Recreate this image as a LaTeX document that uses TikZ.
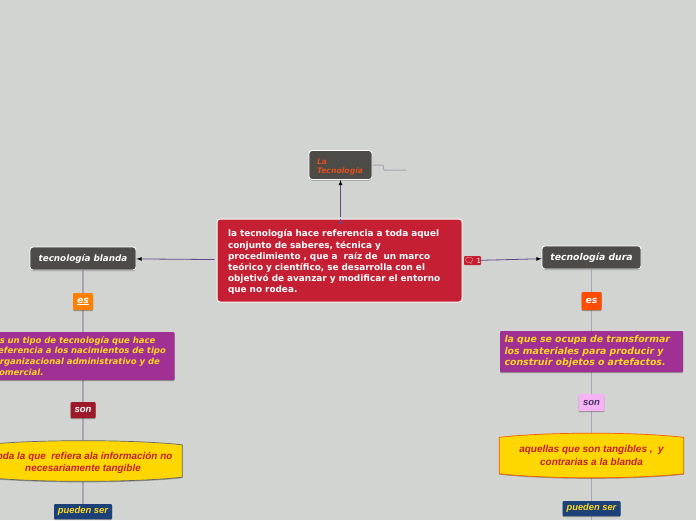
\documentclass[tikz,border=0pt]{standalone}
\usepackage{fontspec}
\setmainfont{DejaVu Sans}
\newfontfamily\arialfont{Liberation Sans}
\newfontfamily\emojifont{Noto Emoji}
\usepackage{tikz}
\usetikzlibrary{positioning}
\usetikzlibrary{arrows}
\usetikzlibrary{shadows,backgrounds}
\definecolor{canvas}{HTML}{D1D4D1}
\definecolor{rootred}{HTML}{C41F33}
\definecolor{topicgrey}{HTML}{4D4B47}
\definecolor{titleorange}{HTML}{E0501E}
\definecolor{linkpurple}{HTML}{66468A}
\definecolor{linkgrey}{HTML}{ACA2B6}
\definecolor{boxpurple}{HTML}{A03094}
\definecolor{textyellow}{HTML}{FFD91E}
\definecolor{lensyellow}{HTML}{FFD700}
\definecolor{darkblue}{HTML}{1C4178}
\newcommand{\lensshape}[3]{\draw[fill=#2,draw=#3,line width=0.7pt,drop shadow={shadow xshift=0pt,shadow yshift=-1pt,opacity=.3,fill=black}]
  (#1.north west) .. controls +(50,-5.5) and +(-50,-5.5) .. (#1.north east)
  -- (#1.south east) .. controls +(-50,5.5) and +(50,5.5) .. (#1.south west) -- cycle;}
\begin{document}
\begin{tikzpicture}[x=1pt,y=-1pt,on grid,
    softshadow/.style={drop shadow={shadow xshift=0pt,shadow yshift=-1pt,opacity=.3,fill=black}},
    root/.style={draw=white,line width=1pt,fill=rootred,rounded corners=3pt,text=white,inner sep=0pt,minimum width=245pt,minimum height=83pt,text width=223pt,align=left,font=\fontsize{8.9}{11.05}\selectfont\bfseries},
    topic/.style={draw=white,line width=0.9pt,fill=topicgrey,rounded corners=3pt,text=white,inner sep=0pt,minimum height=23pt,font=\fontsize{9.3}{11}\selectfont\bfseries\itshape,softshadow},
    tag/.style={fill=#1,rounded corners=1pt,text=white,inner sep=0pt,font=\arialfont\fontsize{9.5}{11}\selectfont\bfseries\itshape,softshadow},
    info/.style={fill=boxpurple,rounded corners=1pt,text=textyellow,inner sep=0pt,align=left,minimum width=183pt,softshadow},
    lens/.style={inner sep=0pt,align=center,text=rootred,minimum height=32pt,font=\arialfont\fontsize{9.9}{11.5}\selectfont\bfseries\itshape},
    link/.style={draw=linkpurple,line width=0.8pt,-latex},
    limb/.style={draw=linkgrey,line width=1.2pt}]
  \useasboundingbox (0,0) rectangle (696,520);

  \node[root] (saberes) at (339.5,260.5) {\rule{0pt}{10pt}la tecnología hace referencia a toda aquel\\conjunto de saberes, técnica y\\procedimiento , que a\ \ raíz de\ \ un marco\\teórico y científico, se desarrolla con el\\objetivó de avanzar y modificar el entorno\\que no rodea.};
  \node[topic,minimum width=63pt,minimum height=29pt,text width=47pt,align=left,text=titleorange,font=\fontsize{7.7}{9.3}\selectfont\bfseries\itshape] (titulo) at (340.5,165) {\rule{0pt}{9pt}La\\Tecnología};
  \coordinate (nota) at (406,170);
  \node[fill=rootred,rounded corners=1pt,text=white,inner sep=0pt,minimum width=17pt,minimum height=9pt,font=\fontsize{7}{8}\selectfont] (comentario) at (472.5,260.5) {{\emojifont\fontsize{8}{8}\selectfont 🗨}\,\,1};

  % rama izquierda
  \node[topic,minimum width=106pt,font=\fontsize{8.8}{11}\selectfont\bfseries\itshape] (blanda) at (83,258.5) {tecnología blanda};
  \node[tag=orange,minimum width=20pt,minimum height=17pt,font=\fontsize{9.3}{11}\selectfont\bfseries\itshape] (esb) [below=43pt of blanda] {\underline{es}};
  \node[info,minimum height=48pt,text width=178pt,font=\fontsize{8.5}{10.7}\selectfont\bfseries\itshape] (tipo) [below=54.5pt of esb] {es un tipo de tecnología que hace\\referencia a los nacimientos de tipo\\organizacional administrativo y de\\comercial.};
  \node[tag={rootred!80!black},minimum width=25pt,minimum height=16pt] (sonb) [below=54pt of tipo] {son};
  \node[lens,minimum width=198pt] (intangible) [below=51pt of sonb] {\rule{0pt}{11.5pt}toda la que\ \ refiera ala información no\\necesariamente tangible};
  \node[tag=darkblue,text=textyellow,minimum width=58pt,minimum height=15pt,font=\arialfont\fontsize{9.4}{10}\selectfont\bfseries\itshape] (puedenb) [below=50.5pt of intangible] {pueden ser};

  % rama derecha
  \node[topic,minimum width=99pt] (dura) at (591.5,257.5) {tecnología dura};
  \node[tag={orange!60!red},minimum width=20pt,minimum height=18pt,font=\fontsize{9.3}{11}\selectfont\bfseries\itshape] (esd) [below=43.5pt of dura] {es};
  \node[info,minimum height=41pt,text width=174pt,font=\fontsize{9.4}{11.4}\selectfont\bfseries\itshape] (transforma) [below=50.5pt of esd] {la que se ocupa de transformar\\los materiales para producir y\\construir objetos o artefactos.};
  \node[tag={violet!25!magenta!30!white},text=linkpurple!70!black,minimum width=26pt,minimum height=17pt] (sond) [below=51pt of transforma] {son};
  \node[lens,minimum width=184pt,minimum height=36pt,font=\arialfont\fontsize{10}{13}\selectfont\bfseries\itshape] (tangible) [below=53pt of sond] {aquellas que son tangibles ,\ \ y\\contrarias a la blanda};
  \node[tag=darkblue,text=textyellow,minimum width=58pt,minimum height=15pt,font=\arialfont\fontsize{9.3}{10}\selectfont\bfseries\itshape] (puedend) [below=53pt of tangible] {pueden ser};
  \coordinate (fin) at (591.5,520);

  \begin{pgfonlayer}{background}
    \fill[canvas] (0,0) rectangle (696,520);
    \path[limb]
    (blanda) edge (esb)
    (esb) edge (tipo)
    (tipo) edge (sonb)
    (sonb) edge (intangible)
    (intangible) edge (puedenb)
    (dura) edge (esd)
    (esd) edge (transforma)
    (transforma) edge (sond)
    (sond) edge (tangible)
    (tangible) edge (puedend)
    (puedend) edge (fin);
    \draw[limb,line width=1pt,rounded corners=1pt] (titulo.east) -- ++(11,0) -- ++(0,5) -- (nota);
    \lensshape{intangible}{lensyellow}{black!60}
    \lensshape{tangible}{lensyellow}{orange!70!red}
  \end{pgfonlayer}

  \path[link]
    (saberes.north -| titulo.south) edge [shorten <=2pt] (titulo.south)
    (saberes) edge [shorten <=2pt] (blanda)
    (comentario) edge (dura);
\end{tikzpicture}
\end{document}
